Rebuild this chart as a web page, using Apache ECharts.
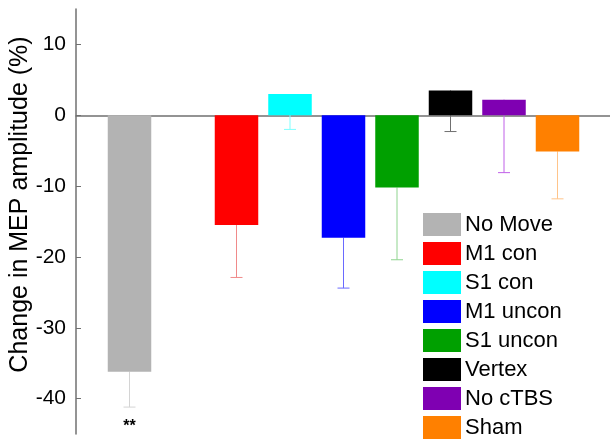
<!DOCTYPE html>
<html>
<head>
<meta charset="utf-8">
<script src="https://cdn.jsdelivr.net/npm/echarts@6/dist/echarts.min.js"></script>
<style>html,body{margin:0;padding:0;background:#fff;}#c{width:610px;height:444px;}</style>
</head>
<body>
<div id="c"></div>
<script>
// Data
const categories = ['', 'No Move', '', 'M1 con', 'S1 con', 'M1 uncon', 'S1 uncon', 'Vertex', 'No cTBS', 'Sham', ''];
const groups = ['No Move', 'M1 con', 'S1 con', 'M1 uncon', 'S1 uncon', 'Vertex', 'No cTBS', 'Sham'];
const values = [-36.2, -15.5, 3.0, -17.3, -10.2, 3.5, 2.2, -5.1];
const errors = [5.0, 7.4, 5.0, 7.1, 10.2, 5.8, 10.3, 6.7];
const sigLabels = ['**', '', '', '', '', '', '', ''];
const yTicks = [-40, -30, -20, -10, 0, 10];

const barColors = ['#b3b3b3', '#ff0000', '#00ffff', '#0000ff', '#00a000', '#000000', '#7f00b2', '#ff8000'];
const errColors = ['#d4d4d4', '#f08a8a', '#80ffff', '#6a6aff', '#8fd48f', '#707070', '#c060e8', '#ffc48a'];

const FONT = 'Liberation Sans, Arial, sans-serif';

const series = groups.map((g, i) => {
  const data = categories.map(c => (c === g ? values[i] : null));
  return {
    name: g,
    type: 'bar',
    stack: 'all',
    barWidth: 43.5,
    z: 3,
    itemStyle: { color: barColors[i] },
    data: data
  };
});

const errData = groups.map((g, i) => [categories.indexOf(g), values[i], errors[i], i]);

series.push({
  type: 'custom',
  z: 2,
  silent: true,
  data: errData,
  encode: { x: 0, y: 1 },
  renderItem: function (params, api) {
    const xi = api.value(0), v = api.value(1), e = api.value(2), idx = api.value(3);
    const top = api.coord([xi, v]);
    const bot = api.coord([xi, v - e]);
    const col = errColors[idx];
    const children = [
      { type: 'line', shape: { x1: top[0], y1: top[1], x2: bot[0], y2: bot[1] }, style: { stroke: col, lineWidth: 1 } },
      { type: 'line', shape: { x1: bot[0] - 6, y1: bot[1], x2: bot[0] + 6, y2: bot[1] }, style: { stroke: col, lineWidth: 1 } }
    ];
    if (sigLabels[idx]) {
      children.push({ type: 'text', x: bot[0], y: bot[1] + 12, style: { text: sigLabels[idx], fill: '#000', font: 'bold 16px ' + FONT, align: 'center', verticalAlign: 'top' } });
    }
    return { type: 'group', children: children };
  }
});

const chart = echarts.init(document.getElementById('c'), null, { renderer: 'canvas' });
chart.setOption({
  animation: false,
  backgroundColor: '#fff',
  grid: { left: 76, top: 9, width: 535, bottom: 10, containLabel: false, outerBoundsMode: 'none' },
  legend: {
    orient: 'vertical',
    left: 418,
    top: 208,
    itemWidth: 38,
    itemHeight: 23,
    itemGap: 6,
    icon: 'rect',
    data: groups,
    textStyle: { fontFamily: FONT, fontSize: 22, color: '#000', padding: [0, 0, 0, -1] },
    backgroundColor: '#fff',
    padding: 5
  },
  xAxis: {
    type: 'category',
    data: categories,
    boundaryGap: false,
    axisLine: { show: true, onZero: true, lineStyle: { color: '#707070', width: 1.5 } },
    axisTick: { show: false },
    axisLabel: { show: false },
    splitLine: { show: false }
  },
  yAxis: {
    type: 'value',
    min: -45,
    max: 15,
    interval: 5,
    name: 'Change in MEP amplitude (%)',
    nameLocation: 'middle',
    nameGap: 43,
    nameMoveOverlap: false,
    nameTextStyle: { fontFamily: FONT, fontSize: 25, color: '#000', padding: [0, 0, 0, 34] },
    axisLine: { show: true, lineStyle: { color: '#707070', width: 1.5 } },
    axisTick: { show: true, inside: true, length: 5, customValues: yTicks, lineStyle: { color: '#707070' } },
    axisLabel: { customValues: yTicks, fontFamily: FONT, fontSize: 21, color: '#000', margin: 10 },
    splitLine: { show: false }
  },
  series: series
});
</script>
</body>
</html>
